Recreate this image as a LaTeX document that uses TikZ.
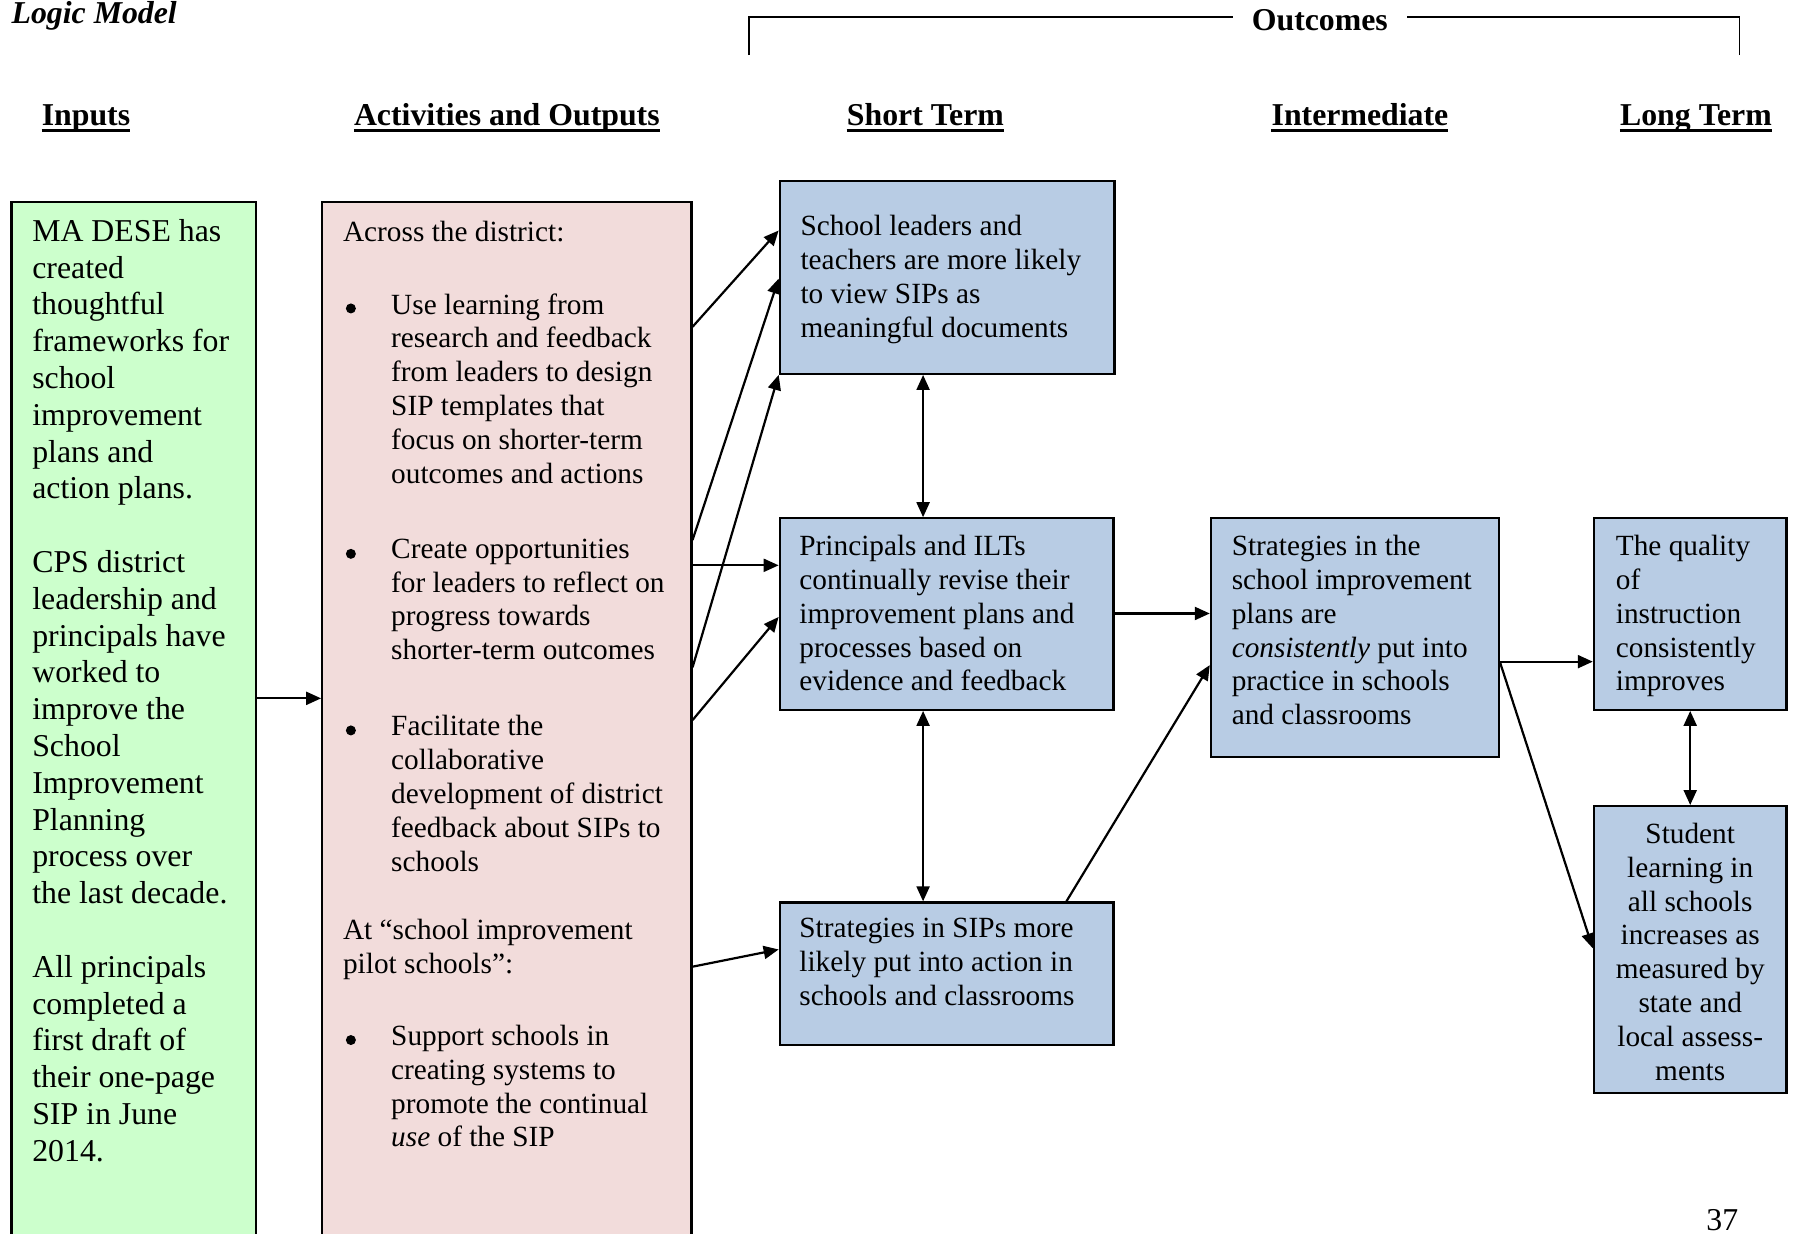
\documentclass[tikz,border=0pt]{standalone}
\usepackage{fontspec}
\setmainfont{Liberation Serif}
\usetikzlibrary{arrows.meta,calc,fit}

\definecolor{inputgreen}{RGB}{204,255,204}
\definecolor{actpink}{RGB}{242,220,219}
\definecolor{outblue}{RGB}{184,204,228}

\begin{document}
\begin{tikzpicture}[x=1.1467pt,y=-1.1467pt,
  box/.style={draw=black,line width=2.2pt,inner sep=0pt},
  body/.style={font=\fontsize{29.3}{33.8}\selectfont,align=left,anchor=north west,
    inner sep=0pt,yshift=23.66pt,execute at begin node=\strut},
  bigbody/.style={font=\fontsize{31.8}{36.8}\selectfont,align=left,anchor=north west,
    inner sep=0pt,yshift=25.76pt,execute at begin node=\strut},
  bulletdot/.style={circle,fill=black,inner sep=0pt,minimum size=10pt,yshift=8.5pt},
  head/.style={font=\fontsize{31.8}{36}\selectfont\bfseries,anchor=base,inner sep=0pt},
  uline/.style={line width=2.8pt},
  link/.style={line width=2.2pt,-{Triangle[length=15pt,width=13pt]}},
  twoway/.style={line width=2.2pt,{Triangle[length=15pt,width=13pt]}-{Triangle[length=15pt,width=13pt]}},
]

\useasboundingbox (0,0) rectangle (1568,1076);

% title
\node[font=\fontsize{31.8}{36}\selectfont\bfseries\itshape,anchor=base west,inner sep=0pt]
  (title) at (10,20.5) {Logic Model};

% outcomes bracket
\node[head,inner xsep=19pt] (hout) at (1151,27) {Outcomes};
\coordinate (brl) at (653,48);
\coordinate (brr) at (1517,48);
\draw[line width=1.5pt] (brl) |- (hout.west |- 0,15);
\draw[line width=1.5pt] (brr) |- (hout.east |- 0,15);

% column headings
\node[head] (hin)  at (75,109.5)   {Inputs};
\node[head] (hact) at (442,109.5)  {Activities and Outputs};
\node[head] (hst)  at (807,109.5)  {Short Term};
\node[head] (hmid) at (1186,109.5) {Intermediate};
\node[head] (hlt)  at (1479,109.5) {Long Term};
\foreach \h in {hin,hact,hst,hmid,hlt}
  \draw[uline] ([yshift=-5pt]\h.base west) -- ([yshift=-5pt]\h.base east);

% boxes
\node[box,fill=inputgreen,fit={(10,176) (223,1095)}] (green) {};
\node[box,fill=actpink,fit={(281,176) (603,1095)}] (pink) {};
\node[box,fill=outblue,fit={(680,158) (972,326)}] (b1) {};
\node[box,fill=outblue,fit={(680,452) (971,619)}] (b2) {};
\node[box,fill=outblue,fit={(680,787) (971,911)}] (b3) {};
\node[box,fill=outblue,fit={(1056,452) (1307,660)}] (b4) {};
\node[box,fill=outblue,fit={(1390,452) (1558,619)}] (b5) {};
\node[box,fill=outblue,fit={(1390,703) (1558,953)}] (b6) {};

% inputs
\node[bigbody] (greentxt) at (28,213.5) {MA DESE has\\ created\\ thoughtful\\ frameworks for\\ school\\
  improvement\\ plans and\\ action plans.\\[36.8pt] CPS district\\ leadership and\\ principals have\\
  worked to\\ improve the\\ School\\ Improvement\\ Planning\\ process over\\ the last decade.\\[36.8pt]
  All principals\\ completed a\\ first draft of\\ their one-page\\ SIP in June\\ 2014.};

% activities
\node[body] (acthead) at (299,210.4) {Across the district:};
\node[bulletdot] (bu1) at (306,276.4) {};
\node[body] (act1) at (341,276.4) {Use learning from\\ research and feedback\\ from leaders to design\\
  SIP templates that\\ focus on shorter-term\\ outcomes and actions};
\node[bulletdot] (bu2) at (306,490.4) {};
\node[body] (act2) at (341,490.4) {Create opportunities\\ for leaders to reflect on\\ progress towards\\
  shorter-term outcomes};
\node[bulletdot] (bu3) at (306,644.4) {};
\node[body] (act3) at (341,644.4) {Facilitate the\\ collaborative\\ development of district\\
  feedback about SIPs to\\ schools};
\node[body] (pilothead) at (299,822.4) {At “school improvement\\ pilot schools”:};
\node[bulletdot] (bu4) at (306,914.4) {};
\node[body] (act4) at (341,914.4) {Support schools in\\ creating systems to\\ promote the continual\\
  \textit{use} of the SIP};

% outcomes
\node[body] (b1txt) at (698,208.4) {School leaders and\\ teachers are more likely\\ to view SIPs as\\
  meaningful documents};
\node[body] (b2txt) at (697,487.4) {Principals and ILTs\\ continually revise their\\
  improvement plans and\\ processes based on\\ evidence and feedback};
\node[body] (b3txt) at (697,821.4) {Strategies in SIPs more\\ likely put into action in\\
  schools and classrooms};
\node[body] (b4txt) at (1074,487.4) {Strategies in the\\ school improvement\\ plans are\\
  \textit{consistently} put into\\ practice in schools\\ and classrooms};
\node[body] (b5txt) at (1409,487.4) {The quality\\ of\\ instruction\\ consistently\\ improves};
\node[body,anchor=north,align=center] (b6txt) at (1474,738.4) {Student\\ learning in\\ all schools\\
  increases as\\ measured by\\ state and\\ local assess-\\ ments};

% page number
\node[font=\fontsize{31.8}{36}\selectfont,anchor=base,inner sep=0pt] (pg) at (1502,1073) {37};

% connectors
\draw[link] (green.east |- 0,609) -- (pink.west |- 0,609);
\draw[link] (pink.east |- 0,285) -- (b1.west |- 0,201);
\draw[link] (pink.east |- 0,471) -- (b1.west |- 0,243);
\draw[link] (pink.east |- 0,582) -- (b1.south west);
\draw[link] (pink.east |- 0,493) -- (b2.west |- 0,493);
\draw[link] (pink.east |- 0,628) -- (b2.west |- 0,538);
\draw[link] (pink.east |- 0,843) -- (b3.west |- 0,828);
\draw[twoway] (b1.south -| 805,0) -- (b2.north -| 805,0);
\draw[twoway] (b2.south -| 805,0) -- (b3.north -| 805,0);
\draw[link] (b2.east |- 0,535) -- (b4.west |- 0,535);
\draw[link] (b3.north -| 930,0) -- (b4.west |- 0,580);
\draw[link] (b4.east |- 0,577) -- (b5.west |- 0,577);
\draw[link] (b4.east |- 0,577) -- (b6.west |- 0,827);
\draw[twoway] (b5.south) -- (b6.north);

\end{tikzpicture}
\end{document}
